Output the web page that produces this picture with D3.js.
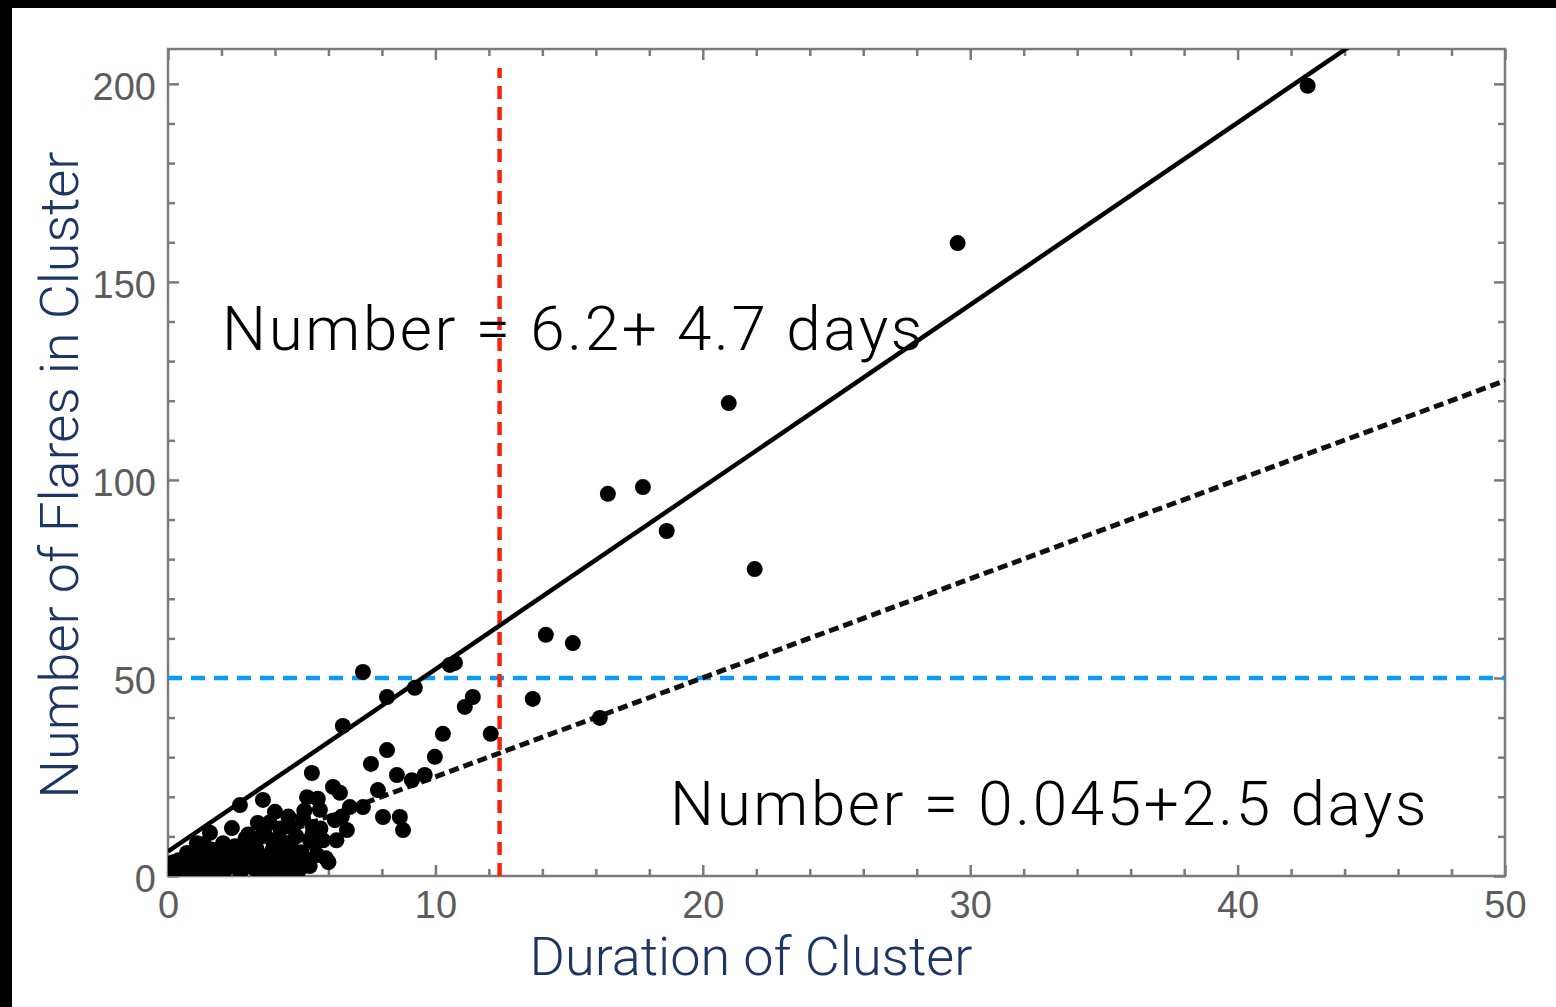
<!DOCTYPE html>
<meta charset="utf-8">
<html>
<head>
  <title>Flares per cluster</title>
  <script src="https://d3js.org/d3.v7.min.js"></script>
  <style>
    body { margin: 0; background: #000; }
    svg { display: block; }
  </style>
</head>
<body>
<script>

// cluster durations (days) and flare counts
var durations = [0.19, 0.45, 0.71, 0.93, 1.08, 1.31, 1.57, 1.68, 1.94, 2.06,
  2.21, 2.39, 2.69, 2.69, 3.07, 3.36, 3.44, 3.55, 3.81, 4.0,
  4.19, 4.45, 4.67, 5.05, 5.2, 5.31, 5.38, 5.42, 5.57, 5.68,
  6.17, 6.24, 6.43, 6.54, 6.69, 6.8, 7.29, 7.29, 7.59, 7.85,
  8.04, 8.19, 8.19, 8.56, 8.67, 8.79, 9.12, 9.23, 9.6, 9.98,
  10.28, 10.54, 10.73, 11.1, 11.4, 12.07, 13.64, 14.13, 15.14, 16.15,
  16.45, 17.76, 18.65, 20.97, 21.94, 29.53, 42.62,
  0.6, 1.2, 1.8, 2.5, 2.9, 3.2, 3.9, 4.3, 4.9, 0.3,
  1.0, 1.5, 2.2, 3.0, 3.6, 4.6, 5.8, 6.0, 0.8, 2.0,
  0.1, 0.4, 0.5, 0.8, 1.1, 1.2, 1.4, 1.6, 1.9, 2.3,
  2.5, 2.8, 3.0, 3.2, 3.3, 3.5, 3.7, 3.9, 4.1, 4.2,
  4.4, 4.6, 4.8, 5.0, 5.1, 5.3, 5.5, 5.7, 5.9, 6.3,
  6.5, 1.3, 3.8, 4.5, 5.6, 2.6, 3.4, 4.0, 4.9, 5.4,
  0.3, 0.7, 1.5, 2.1, 2.7, 3.1, 3.6, 4.3, 4.7, 5.2];
var counts = [3.5, 2.3, 5.8, 2.0, 8.3, 4.0, 10.9, 6.6, 1.0, 8.3,
  3.3, 12.1, 17.9, 1.5, 5.8, 13.4, 3.3, 19.2, 1.5, 16.2,
  9.1, 5.8, 12.1, 14.6, 19.9, 9.1, 26.0, 12.4, 5.3, 16.7,
  22.5, 14.1, 21.0, 37.9, 11.6, 17.4, 51.5, 17.4, 28.3, 21.7,
  14.9, 45.2, 31.8, 25.5, 14.9, 11.6, 24.2, 47.5, 25.5, 30.1,
  35.9, 53.3, 53.8, 42.7, 45.2, 35.9, 44.7, 60.9, 58.8, 39.9,
  96.5, 98.2, 87.1, 119.4, 77.5, 159.8, 199.5,
  1.0, 1.5, 4.5, 7.5, 9.5, 8.0, 6.5, 2.0, 3.0, 0.5,
  4.5, 2.5, 6.0, 10.5, 11.0, 8.5, 9.0, 3.5, 3.8, 4.8,
  1.0, 4.0, 1.5, 0.8, 3.0, 6.0, 7.5, 2.0, 5.0, 2.5,
  6.0, 4.0, 8.0, 2.0, 7.0, 10.0, 5.0, 9.0, 3.0, 12.0,
  7.5, 4.0, 10.0, 6.0, 16.5, 2.5, 8.0, 12.0, 4.5, 9.0,
  15.0, 8.0, 13.5, 15.0, 19.5, 3.0, 1.0, 5.5, 1.5, 10.5,
  0.5, 1.0, 0.5, 1.0, 0.8, 5.0, 0.5, 0.8, 1.0, 4.0];

var xMajor = [0, 10, 20, 30, 40, 50];
var yMajor = [0, 50, 100, 150, 200];

// fitted lines: [intercept, slope]
var fitSolid = [6.2, 4.6];
var fitDotted = [0.045, 2.5];
var durationCut = 12.4;
var countCut = 50;

var labelSolid = "Number = 6.2+ 4.7 days";
var labelDotted = "Number = 0.045+2.5 days";

var width = 1556, height = 1007;

var svg = d3.select("body").append("svg")
    .attr("width", width)
    .attr("height", height);

// black frame on the left and top
svg.append("rect").attr("width", width).attr("height", height).style("fill", "#000");
svg.append("rect").attr("x", 12).attr("y", 8)
    .attr("width", width - 12).attr("height", height - 8)
    .style("fill", "#fff");

var x = d3.scaleLinear().domain([0, 50]).range([168, 1505]);
var y = d3.scaleLinear().domain([0, 208.8]).range([876, 49]);

var xMinor = d3.range(0, 51, 2).filter(function(d){ return d % 10 != 0; });
var yMinor = d3.range(0, 209, 10).filter(function(d){ return d % 50 != 0; });

var frameColor = "#7a7a7a";

svg.append("defs").append("clipPath").attr("id", "plotclip")
  .append("rect")
    .attr("x", x(0)).attr("y", y(208.8))
    .attr("width", x(50) - x(0)).attr("height", y(0) - y(208.8));

// ticks on all four sides, pointing in
function frameAxis(axisFn, scale, values, size, tx, ty, pad) {
  var a = axisFn(scale).tickValues(values).tickSizeInner(size).tickSizeOuter(0)
      .tickPadding(pad || 0)
      .tickFormat(pad ? d3.format("d") : "");
  var g = svg.append("g")
      .attr("transform", "translate(" + tx + "," + ty + ")")
      .call(a);
  g.select(".domain").remove();
  g.selectAll(".tick line").style("stroke", frameColor).style("stroke-width", 2.5);
  g.selectAll(".tick text")
      .style("font-family", "'Liberation Sans', Arial, sans-serif")
      .style("font-size", "38px")
      .style("fill", "#5c5c5c");
  return g;
}

frameAxis(d3.axisBottom, x, xMajor, -11, 0, y(0), 15);
frameAxis(d3.axisBottom, x, xMinor, -7, 0, y(0));
frameAxis(d3.axisTop, x, xMajor, -11, 0, y(208.8));
frameAxis(d3.axisTop, x, xMinor, -7, 0, y(208.8));
frameAxis(d3.axisLeft, y, yMajor, -11, x(0), 0, 12)
  .selectAll(".tick text").attr("dy", "0.42em");
frameAxis(d3.axisLeft, y, yMinor, -7, x(0), 0);
frameAxis(d3.axisRight, y, yMajor, -11, x(50), 0);
frameAxis(d3.axisRight, y, yMinor, -7, x(50), 0);

svg.append("rect")
    .attr("x", x(0)).attr("y", y(208.8))
    .attr("width", x(50) - x(0)).attr("height", y(0) - y(208.8))
    .style("fill", "none")
    .style("stroke", frameColor)
    .style("stroke-width", 2.5);

var plot = svg.append("g").attr("clip-path", "url(#plotclip)");

// guide lines
plot.append("line")
    .attr("x1", x(0)).attr("x2", x(50))
    .attr("y1", y(countCut)).attr("y2", y(countCut))
    .style("stroke", "#0a9bf5")
    .style("stroke-width", 4.5)
    .style("stroke-dasharray", "14,9");

plot.append("line")
    .attr("x1", x(durationCut)).attr("x2", x(durationCut))
    .attr("y1", y(0)).attr("y2", y(204))
    .style("stroke", "#f2260f")
    .style("stroke-width", 4.5)
    .style("stroke-dasharray", "13,8");

var line = d3.line()
    .x(function(d){ return x(d[0]); })
    .y(function(d){ return y(d[1]); });

function fitPoints(f) {
  return [0, 50].map(function(d){ return [d, f[0] + f[1] * d]; });
}

plot.append("path")
    .attr("d", line(fitPoints(fitDotted)))
    .style("fill", "none")
    .style("stroke", "#111")
    .style("stroke-width", 5)
    .style("stroke-dasharray", "10,5");

plot.append("path")
    .attr("d", line(fitPoints(fitSolid)))
    .style("fill", "none")
    .style("stroke", "#000")
    .style("stroke-width", 4.5);

plot.append("g").selectAll("circle")
    .data(durations)
  .enter().append("circle")
    .attr("cx", function(d){ return x(d); })
    .attr("cy", function(d, i){ return y(counts[i]); })
    .attr("r", 8)
    .style("fill", "#000");

// annotations
var light = "Roboto, 'Open Sans', sans-serif";

svg.append("text")
    .attr("x", 222).attr("y", 350)
    .style("font-family", light).style("font-weight", 300)
    .style("font-size", "62px").style("letter-spacing", "2.6px")
    .style("fill", "#000")
    .text(labelSolid);

svg.append("text")
    .attr("x", 670).attr("y", 825)
    .style("font-family", light).style("font-weight", 300)
    .style("font-size", "62px").style("letter-spacing", "2.6px")
    .style("fill", "#000")
    .text(labelDotted);

svg.append("text")
    .attr("x", 751).attr("y", 975)
    .attr("text-anchor", "middle")
    .style("font-family", light).style("font-weight", 300)
    .style("font-size", "54px").style("fill", "#1c3563")
    .text("Duration of Cluster");

svg.append("text")
    .attr("transform", "translate(78,475) rotate(-90)")
    .attr("text-anchor", "middle")
    .style("font-family", light).style("font-weight", 300)
    .style("font-size", "54px").style("fill", "#1c3563")
    .text("Number of Flares in Cluster");

</script>
</body>
</html>
